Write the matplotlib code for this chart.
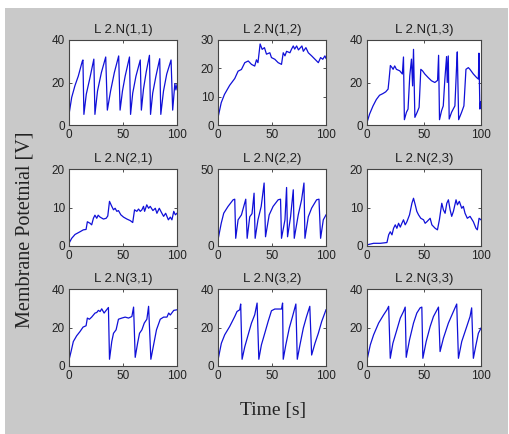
import matplotlib.pyplot as plt
from matplotlib.patches import Rectangle

# valores (tempo em s, potencial em V)
t11 = [0, 2.5, 5.5, 8.6, 12.3, 12.9, 13.8, 16, 19.3, 23, 24, 26.4, 30, 34, 35.5, 38.5, 42, 46, 47.3,
       49.5, 52, 56, 57, 59, 62, 66, 67, 69, 71.5, 74.5, 75.5, 77.5, 80.5, 84, 85, 87.5, 90.5, 94.5, 96,
       98, 99, 100]
v11 = [5, 13, 18.5, 23, 30, 30.6, 5, 14.5, 22, 31, 5, 16, 24.7, 32, 7, 16, 24.7, 32.5, 7,
       16, 23, 32, 5, 15, 23, 30.6, 7, 17, 25, 32.8, 5, 15, 23, 31.2, 5, 16, 24, 30.6, 7,
       19.5, 16.5, 19]

t12 = [0, 3, 6, 10.8, 15.5, 18.6, 21.7, 24.8, 28, 31, 34, 35.6, 37, 39, 40.9, 43, 44.9, 48, 49.5, 52.6,
       55.7, 58.8, 60.4, 62, 63.5, 66.6, 68, 69.7, 71, 72.8, 74.5, 77.7, 79, 81.4, 83.6, 86.7, 89.8, 92.9,
       95, 97, 99, 100]
v12 = [2.6, 7.9, 10.8, 14, 16.4, 19, 19.6, 22, 22.6, 21.4, 20.8, 23, 22, 28.6, 26.7, 27.3, 25, 25.5, 23.8, 23.2,
       22, 21.4, 25.5, 24.4, 26, 25.5, 26.7, 27.9, 26.8, 27.9, 26.5, 27.9, 26, 27.3, 25.5, 24.4, 23.2, 22,
       23.8, 23.2, 24.4, 23.5]

t13 = [0, 2.3, 5.3, 8.2, 11, 14, 16.4, 18.5, 19.4, 20.5, 22, 22.9, 24.3, 25.8, 28.7, 31, 32, 32.8, 34.6, 36,
       37.5, 39, 40, 40.8, 42, 44, 45.7, 47.2, 48.7, 50.7, 53.7, 56.6, 59.5, 61.9, 62.8, 63.6, 65.4, 66.9,
       68.3, 69.8, 70.4, 71.3, 72.1, 74.2, 77.1, 78.6, 79.2, 80.4, 83, 85, 86.8, 88.9, 90.3, 93.3, 96.2,
       97.7, 98.2, 99, 99.7]
v13 = [1.2, 5.2, 9, 12, 14, 14.8, 15.6, 16.9, 21.6, 28, 27, 26.2, 27.8, 26.2, 25.5, 24, 32, 2.5, 6, 7.5,
       23, 31, 18.4, 35.6, 3.6, 6, 8.3, 26.2, 25.5, 24, 22.3, 20.8, 20, 21, 32.8, 2.5, 6.7, 9,
       21.6, 32.2, 20, 32.5, 2.8, 6, 9, 27.8, 34.4, 2.5, 6, 9, 26.2, 27, 26.2, 24, 22.3,
       21.6, 33.8, 7.5, 11]

t21 = [0, 2.5, 5.6, 10.2, 13.3, 15.8, 17, 19.5, 21, 22.6, 24, 25.7, 27, 28.8, 31.9, 34.4, 35.9, 37.5, 39.6,
       41.2, 42.7, 44.3, 45.8, 48, 50.5, 53.6, 56.7, 59, 60.7, 62.8, 64.4, 66, 67.5, 69, 70, 72, 73.7, 75.2,
       77.7, 79.9, 81.4, 83.6, 86, 87.6, 89.5, 92, 93.8, 95.3, 97, 98.5, 100]
v21 = [0.7, 2, 3, 3.7, 4.2, 4.3, 6.3, 5.9, 5.5, 7.2, 8, 7.2, 8, 7.5, 7, 7.2, 7.8, 11.6, 10.3,
       9.4, 9.8, 9, 9.2, 8.1, 7.5, 7, 6.6, 6.1, 9.4, 9, 9.6, 9, 9.4, 10.3, 9, 10.7, 9.8, 10.3,
       9.2, 9.8, 8.5, 9.8, 8.5, 7.7, 8.5, 6.8, 7.5, 6.8, 9, 8.1, 8.5]

t22 = [0, 3, 5.3, 9.3, 14, 15.5, 16.4, 18.6, 21.7, 25.7, 27, 29.4, 31.5, 33.4, 34.4, 37, 40, 42.7, 44,
       47.4, 51, 55.7, 57.9, 58.8, 62, 63.5, 64.4, 67.2, 69.7, 70.6, 74.3, 77.4, 79.6, 80.5, 83.6, 86.7,
       91.3, 93.5, 95, 97.5, 100]
v22 = [4, 14.8, 21.3, 25.7, 30, 30.4, 5, 17, 20.2, 30.4, 5, 19, 21, 34.3, 5, 17, 25.7, 40.9, 6,
       20.2, 25.7, 30, 30.4, 5, 17, 38, 6, 19, 36.5, 5, 20.2, 30, 40.9, 5, 19, 24.6,
       30, 30.4, 5, 17, 20.2]

t23 = [0, 2.9, 5.8, 11.7, 17.5, 19, 20.4, 21.9, 23.3, 24.8, 26.2, 27.7, 29.2, 30.6, 32, 33.5, 35, 37.3,
       39.4, 40.8, 42.3, 43.7, 45.2, 47.2, 49.6, 51, 52.5, 55.4, 56.9, 59.8, 61.8, 63.5, 65.6, 67, 68.5,
       70, 71.4, 72.9, 74.3, 75.8, 78.1, 79.3, 81, 83.1, 84.5, 86, 88, 90.4, 93.3, 95.6, 96.8, 98.3, 100]
v23 = [0.3, 0.5, 0.7, 0.7, 0.9, 2.9, 3.7, 2.9, 4.6, 5.5, 4.6, 5.9, 4.9, 5.9, 6.8, 5.5, 6.3, 8.1,
       11.1, 12.4, 10.7, 9, 8.1, 7.2, 6.8, 5.9, 6.3, 7.2, 5.5, 4.6, 4.2, 6.8, 11.1, 9.4, 8.5,
       11.1, 12, 9.4, 7.7, 9, 12, 10.7, 11.6, 9.8, 10.3, 8.5, 7.2, 7.7, 6.3, 4.6, 4.2, 7.2, 6.8]

t31 = [0, 1.9, 4, 7.1, 10.2, 13, 15.8, 17, 18.9, 21, 24.1, 25.7, 27.2, 28.8, 30.3, 32.5, 34.4, 36.5, 37.5,
       39.6, 41.2, 43.6, 45.8, 48.9, 52, 55.1, 58.2, 59.8, 61.3, 63.5, 65.3, 67.5, 69.7, 72.1, 73.7,
       75.8, 78, 81, 84.5, 87.6, 90.7, 92.3, 93.8, 97, 100]
v31 = [3.1, 7.5, 12.7, 15.7, 17.9, 20.2, 20.9, 24.9, 24.3, 25.4, 27.5, 27.8, 28.9, 28.3, 29.7, 27.5, 28.9, 30.4, 3.5,
       12.7, 17, 18.8, 24.3, 24.9, 25.4, 24.9, 25.7, 30.6, 4.5, 11.8, 17, 18.8, 22.3, 24.3, 31,
       3.5, 10, 18.8, 24.3, 25.4, 25.4, 27.5, 26.5, 28.9, 29.2]

t32 = [0, 3.1, 6.2, 10.8, 15.5, 17.6, 20.1, 21, 22.3, 24.8, 27.9, 31, 34, 36.2, 37.8, 40.2, 43.3, 46.4,
       49.5, 52.6, 55.7, 58.8, 59.8, 60.4, 62.8, 66, 69, 72.1, 73.4, 75.9, 79, 82, 85, 86.7, 89.8, 92.9,
       96, 100]
v32 = [3.1, 11.8, 16.2, 20.5, 25.7, 28.3, 29.2, 32.2, 3.5, 10, 16.2, 22.3, 26.6, 32.7, 3.5, 11, 17, 23.1,
       28.7, 29.6, 29.6, 29.6, 32.7, 3.5, 11, 19.7, 25.7, 32.2, 3.5, 11, 19.7, 25.7, 31, 5.7, 11.8, 17,
       23.1, 29.2]

t33 = [0, 2.9, 5.8, 10.2, 14.6, 17.5, 19, 20.4, 22.7, 26.2, 29.2, 32, 33.5, 34.4, 37.3, 40.8, 43.7, 46.6,
       48.1, 49, 51.9, 55.4, 58.3, 62.7, 64.1, 67, 71.4, 75.8, 78.7, 80.2, 83.1, 87.5, 90.4, 91.8, 93.3,
       95.6, 97.7, 100]
v33 = [3.1, 11, 16.2, 22.3, 26.6, 29.2, 31, 4, 11.8, 18.8, 24.9, 28.3, 30.6, 4.5, 13.6, 22.3, 27.5, 30.2,
       30.6, 4, 12.7, 20.5, 25.7, 30.6, 7.5, 14.4, 22.3, 28.3, 32.2, 4, 12.7, 20.5, 25.7, 30.2, 4,
       11, 17, 19.7]

tempos = [[t11, t12, t13], [t21, t22, t23], [t31, t32, t33]]
valores = [[v11, v12, v13], [v21, v22, v23], [v31, v32, v33]]
limites_y = [[40, 30, 40], [20, 50, 20], [40, 40, 40]]
ticks_y = [[[0, 20, 40], [0, 10, 20, 30], [0, 20, 40]],
           [[0, 10, 20], [0, 50], [0, 10, 20]],
           [[0, 20, 40], [0, 20, 40], [0, 20, 40]]]
ticks_x = [0, 50, 100]

W, H = 510, 434
fig = plt.figure(figsize=(W / 100, H / 100), dpi=100, facecolor='white')
# fundo cinza estilo MATLAB (atrás dos eixos)
fig.patches.append(Rectangle((5 / W, 0), 503 / W, 1 - 8 / H, transform=fig.transFigure,
                             facecolor='#c9c9c9', edgecolor='none', zorder=-10))

# posições das caixas em pixels (esquerda, direita) e (topo, base)
colunas = [(69, 177), (218, 326), (367, 481)]
linhas = [(40, 125), (169, 246), (289, 366)]

for i in range(3):
    for j in range(3):
        x0, x1 = colunas[j]
        y0, y1 = linhas[i]
        ax = fig.add_axes([x0 / W, 1 - y1 / H, (x1 - x0) / W, (y1 - y0) / H])
        ax.plot(tempos[i][j], valores[i][j], color='#1010d8', linewidth=0.9)
        ax.set_xlim(0, 100)
        ax.set_ylim(0, limites_y[i][j])
        ax.set_xticks(ticks_x)
        ax.set_yticks(ticks_y[i][j])
        ax.tick_params(direction='in', top=True, right=True, length=2.5, width=0.6,
                       labelsize=8.5, pad=3, colors='#333333', labelcolor='#222222')
        for s in ax.spines.values():
            s.set_color('#444444')
            s.set_linewidth(0.8)
        ax.set_title(f'L 2.N({i + 1},{j + 1})', fontsize=9.5, pad=5, color='#222222',
                     family='Liberation Sans')
        for lab in ax.get_xticklabels() + ax.get_yticklabels():
            lab.set_family('Liberation Sans')

fig.text(25 / W, 1 - 230 / H, 'Membrane Potetnial [V]', rotation=90, ha='center', va='center',
         fontsize=14.5, family='Liberation Serif', color='#222222')
fig.text(273 / W, 1 - 411 / H, 'Time [s]', ha='center', va='center',
         fontsize=14, family='Liberation Serif', color='#222222')

plt.savefig('out.png', dpi=100, facecolor=fig.get_facecolor())
plt.close()
